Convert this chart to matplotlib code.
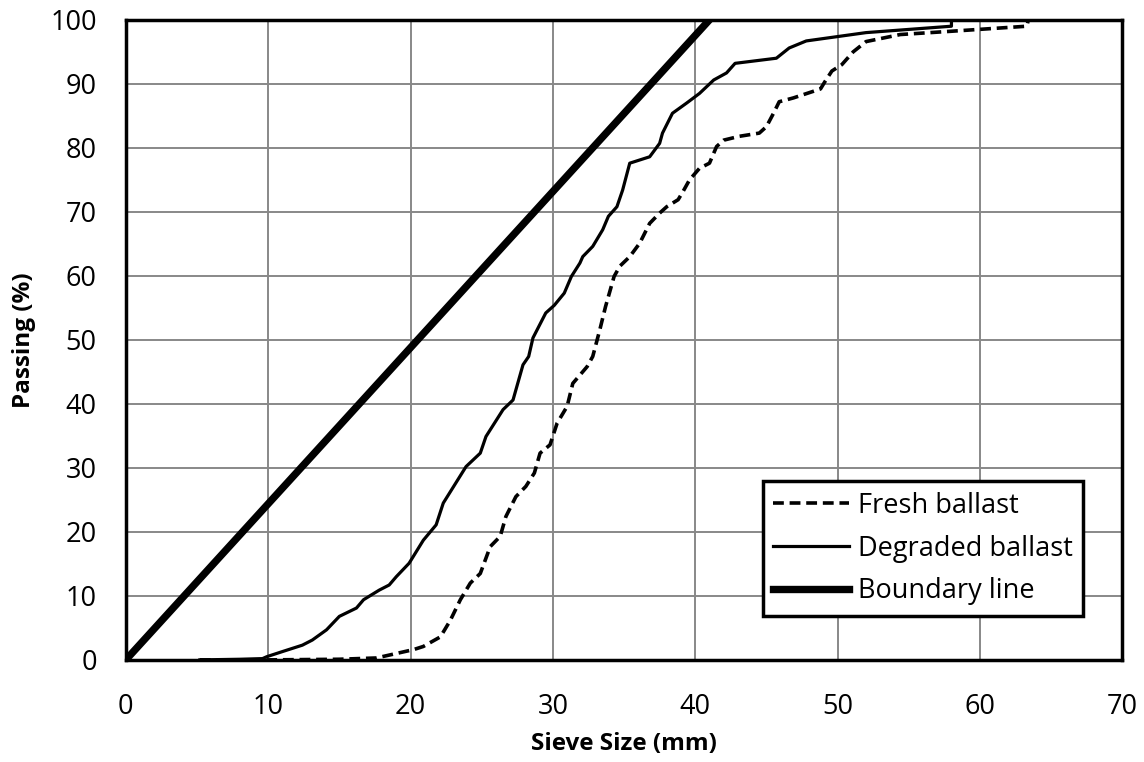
import matplotlib.pyplot as plt

# sieve size (mm) vs passing (%)
fresh_x = [5.2, 10.0, 15.0, 17.6, 20.2, 20.9, 22.1, 22.8, 23.5, 24.2, 24.9, 25.6, 26.3, 26.7,
           27.4, 28.1, 28.7, 29.1, 29.8, 30.3, 31.0, 31.4, 32.4, 32.8, 33.3, 33.7, 34.3, 34.7,
           35.4, 36.1, 36.8, 37.5, 38.0, 38.8, 39.15, 39.6, 40.3, 41.0, 41.5, 42.0, 43.1, 44.5,
           45.0, 45.5, 45.9, 46.9, 48.8, 49.1, 49.6, 50.3, 51.1, 52.0, 54.4, 57.9, 63.3, 63.4]
fresh_y = [0.0, 0.0, 0.1, 0.3, 1.6, 2.1, 3.6, 6.2, 9.4, 12.0, 13.5, 17.7, 19.3, 22.4,
           25.5, 27.1, 29.2, 32.3, 33.6, 37.0, 39.6, 43.2, 45.8, 47.4, 51.6, 55.2, 59.9, 61.5,
           63.0, 65.1, 68.2, 69.8, 70.8, 71.9, 73.2, 75.0, 76.8, 77.6, 80.2, 81.2, 81.8, 82.3,
           83.3, 85.4, 87.2, 87.8, 89.2, 90.3, 92.0, 93.0, 95.0, 96.6, 97.7, 98.2, 99.0, 100.0]

degraded_x = [5.2, 8.0, 9.6, 9.9, 11.0, 12.4, 13.1, 14.1, 15.0, 16.2, 16.7, 17.8, 18.5, 19.0,
              19.9, 20.9, 21.8, 22.3, 23.9, 24.9, 25.3, 26.5, 27.2, 27.9, 28.3, 28.6, 29.5,
              30.1, 30.8, 31.3, 31.9, 32.1, 32.8, 33.5, 33.9, 34.5, 34.9, 35.4, 36.8, 37.5,
              37.7, 38.4, 39.4, 40.3, 41.3, 42.2, 42.8, 45.7, 46.6, 47.8, 52.0, 58.0, 58.0]
degraded_y = [0.0, 0.1, 0.2, 0.5, 1.3, 2.3, 3.1, 4.7, 6.8, 8.1, 9.4, 10.9, 11.7, 13.0,
              15.1, 18.7, 21.1, 24.5, 30.2, 32.3, 34.9, 39.1, 40.6, 46.1, 47.4, 50.3, 54.2,
              55.4, 57.3, 59.9, 62.0, 63.0, 64.6, 67.2, 69.3, 70.8, 73.4, 77.6, 78.6, 80.7,
              82.3, 85.4, 87.0, 88.5, 90.6, 91.7, 93.2, 94.0, 95.6, 96.7, 98.0, 99.0, 100.0]

boundary_x = [0, 41]
boundary_y = [0, 100]

plt.rcParams['font.family'] = ['Open Sans', 'DejaVu Sans']

fig = plt.figure(figsize=(11.44, 7.62), dpi=100)
ax = fig.add_axes([0.110, 0.134, 0.871, 0.840])

ax.plot(fresh_x, fresh_y, color='black', lw=2.6, linestyle=(0, (3, 1.6)), label='Fresh ballast')
ax.plot(degraded_x, degraded_y, color='black', lw=2.3, label='Degraded ballast')
ax.plot(boundary_x, boundary_y, color='black', lw=5.3, label='Boundary line')

ax.set_xlim(0, 70)
ax.set_ylim(0, 100)
ax.set_xticks(range(0, 71, 10))
ax.set_yticks(range(0, 101, 10))
ax.grid(True, color='#888888', lw=1.4)
ax.set_axisbelow(True)
for s in ax.spines.values():
    s.set_linewidth(2.5)
    s.set_color('black')
ax.tick_params(length=0, labelsize=19.5)
ax.tick_params(axis='x', pad=24)
ax.tick_params(axis='y', pad=21)

ax.set_xlabel('Sieve Size (mm)', fontsize=17.5, fontweight='bold')
ax.set_ylabel('Passing (%)', fontsize=17.5, fontweight='bold')
ax.xaxis.set_label_coords(0.5, -0.112)
ax.yaxis.set_label_coords(-0.09, 0.5)

leg = ax.legend(loc='lower right', bbox_to_anchor=(0.961, 0.069), fontsize=19.5, frameon=True,
                fancybox=False, framealpha=1, handlelength=2.8, handletextpad=0.33,
                borderpad=0.38, labelspacing=0.55, borderaxespad=0)
leg.get_frame().set_edgecolor('black')
leg.get_frame().set_linewidth(2.5)

plt.savefig('out.png')
